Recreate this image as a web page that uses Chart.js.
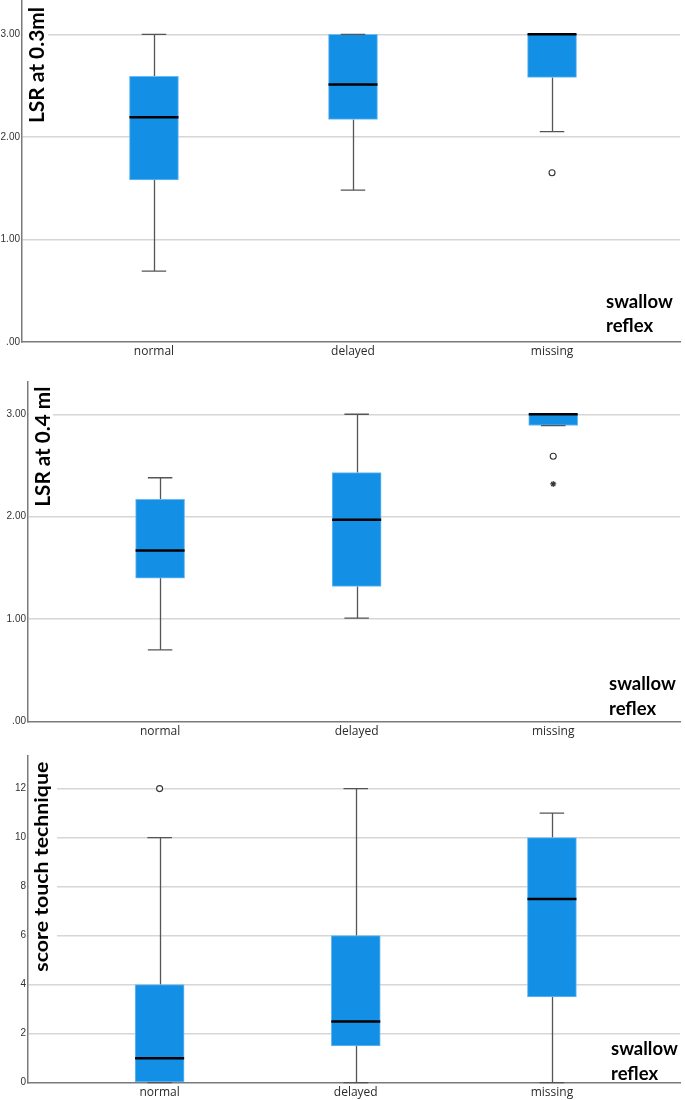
<!DOCTYPE html>
<html>
<head>
<meta charset="utf-8">
<script src="https://cdn.jsdelivr.net/npm/chart.js@4.4.1/dist/chart.umd.min.js"></script>
<style>
  html, body { margin: 0; padding: 0; background: #fff; }
  .panel { position: absolute; left: 0; width: 685px; }
</style>
</head>
<body>
<div class="panel" style="top:0;height:360px"><canvas id="lsr03" width="685" height="360"></canvas></div>
<div class="panel" style="top:360px;height:380px"><canvas id="lsr04" width="685" height="380"></canvas></div>
<div class="panel" style="top:740px;height:360px"><canvas id="touch" width="685" height="360"></canvas></div>
<script>
// Swallow reflex groups
const categories = ['normal', 'delayed', 'missing'];

// LSR at 0.3ml
const lsr03Min = [0.69, 1.48, 2.05];
const lsr03Q1 = [1.58, 2.17, 2.58];
const lsr03Median = [2.19, 2.51, 3.00];
const lsr03Q3 = [2.59, 3.00, 3.00];
const lsr03Max = [3.00, 3.00, 3.00];
const lsr03OutlierCat = ['missing'];
const lsr03OutlierVal = [1.65];

// LSR at 0.4 ml
const lsr04Min = [0.70, 1.01, 2.89];
const lsr04Q1 = [1.40, 1.32, 2.89];
const lsr04Median = [1.67, 1.97, 3.00];
const lsr04Q3 = [2.17, 2.43, 3.00];
const lsr04Max = [2.38, 3.00, 3.00];
const lsr04OutlierCat = ['missing'];
const lsr04OutlierVal = [2.59];
const lsr04ExtremeCat = ['missing'];
const lsr04ExtremeVal = [2.32];

// score touch technique
const touchMin = [0, 0, 0];
const touchQ1 = [0, 1.5, 3.5];
const touchMedian = [1, 2.5, 7.5];
const touchQ3 = [4, 6, 10];
const touchMax = [10, 12, 11];
const touchOutlierCat = ['normal'];
const touchOutlierVal = [12];

// tick values and labels
const lsrTicks = [0, 1, 2, 3];
const lsrTickLabels = ['.00', '1.00', '2.00', '3.00'];
const touchTicks = [0, 2, 4, 6, 8, 10, 12];
const touchTickLabels = ['0', '2', '4', '6', '8', '10', '12'];

const BOX_BLUE = '#1390e6';
const WHISKER = '#555555';

// Whiskers, caps and medians for the box plots
const boxWhiskers = {
  id: 'boxWhiskers',
  beforeDatasetsDraw(chart, args, o) {
    const { ctx, scales: { x, y } } = chart;
    ctx.save();
    ctx.strokeStyle = WHISKER;
    ctx.lineWidth = 1.3;
    o.median.forEach((m, i) => {
      const px = Math.round(x.getPixelForValue(i + 1)) + 0.5;
      ctx.beginPath();
      ctx.moveTo(px, y.getPixelForValue(o.max[i]));
      ctx.lineTo(px, y.getPixelForValue(o.q3[i]));
      ctx.moveTo(px, y.getPixelForValue(o.q1[i]));
      ctx.lineTo(px, y.getPixelForValue(o.min[i]));
      ctx.stroke();
    });
    ctx.restore();
  },
  afterDatasetsDraw(chart, args, o) {
    const { ctx, scales: { x, y } } = chart;
    const bars = chart.getDatasetMeta(0).data;
    ctx.save();
    o.median.forEach((m, i) => {
      const px = x.getPixelForValue(i + 1);
      const w = bars[i].width;
      ctx.strokeStyle = WHISKER;
      ctx.lineWidth = 1.3;
      ctx.beginPath();
      [o.min[i], o.max[i]].forEach(v => {
        const py = y.getPixelForValue(v);
        ctx.moveTo(px - w / 4, py);
        ctx.lineTo(px + w / 4, py);
      });
      ctx.stroke();
      ctx.strokeStyle = '#000';
      ctx.lineWidth = 2.5;
      ctx.beginPath();
      const my = y.getPixelForValue(m);
      ctx.moveTo(px - w / 2, my);
      ctx.lineTo(px + w / 2, my);
      ctx.stroke();
    });
    ctx.restore();
  }
};

// Rotated bold axis title and the "swallow reflex" caption
const panelText = {
  id: 'panelText',
  afterDraw(chart, args, o) {
    const { ctx, chartArea } = chart;
    ctx.save();
    ctx.fillStyle = '#fff';
    ctx.fillRect(chartArea.left + 1, o.cy - o.length / 2 - 3, o.bgRight - chartArea.left - 1, o.length + 6);
    ctx.fillStyle = '#000';
    ctx.translate(o.baseX, o.cy);
    ctx.rotate(-Math.PI / 2);
    ctx.font = 'bold ' + o.size + 'px Lato, "Open Sans", sans-serif';
    const tw = ctx.measureText(o.title).width;
    ctx.scale(o.length / tw, 1);
    ctx.textAlign = 'center';
    ctx.textBaseline = 'alphabetic';
    ctx.fillText(o.title, 0, 0);
    ctx.restore();

    ctx.save();
    ctx.fillStyle = '#000';
    ctx.font = 'bold 18.5px Lato, "Open Sans", sans-serif';
    ctx.textAlign = 'left';
    ctx.textBaseline = 'alphabetic';
    ctx.fillText('swallow', o.capX, o.capY);
    ctx.fillText('reflex', o.capX, o.capY + 24.5);
    ctx.restore();
  }
};

function toPoints(cats, vals) {
  return vals.map((v, i) => ({ x: categories.indexOf(cats[i]) + 1, y: v }));
}

function boxChart(id, p) {
  const H = document.getElementById(id).height;
  const datasets = [{
    type: 'bar',
    data: categories.map((c, i) => ({ x: i + 1, y: [p.q1[i], p.q3[i]] })),
    backgroundColor: BOX_BLUE,
    borderColor: '#6dbaf2',
    borderWidth: 1,
    borderSkipped: false,
    barThickness: 49
  }, {
    type: 'scatter',
    data: toPoints(p.outCat, p.outVal),
    pointStyle: 'circle',
    pointRadius: 3,
    pointBackgroundColor: '#fff',
    pointBorderColor: '#333',
    pointBorderWidth: 1.1
  }];
  if (p.extCat) {
    datasets.push({
      type: 'scatter',
      data: toPoints(p.extCat, p.extVal),
      pointStyle: 'star',
      pointRadius: 3,
      pointBorderColor: '#333',
      pointBorderWidth: 1.1
    });
  }
  return new Chart(document.getElementById(id), {
    type: 'bar',
    data: { datasets },
    options: {
      responsive: false,
      animation: false,
      events: [],
      layout: { autoPadding: false, padding: { top: p.top, right: 5, left: 0, bottom: 0 } },
      plugins: {
        legend: { display: false },
        tooltip: { enabled: false },
        boxWhiskers: { min: p.min, q1: p.q1, median: p.median, q3: p.q3, max: p.max },
        panelText: p.text
      },
      scales: {
        x: {
          type: 'linear',
          offset: false,
          min: p.xMin,
          max: p.xMax,
          afterBuildTicks: s => { s.ticks = categories.map((c, i) => ({ value: i + 1 })); },
          afterFit: s => { s.height = H - p.bottom; s.paddingLeft = 0; s.paddingRight = 0; },
          ticks: {
            callback: v => categories[v - 1],
            font: { family: '"Open Sans", sans-serif', size: 12 },
            color: '#2b2b2b',
            padding: 3,
            maxRotation: 0,
            autoSkip: false
          },
          grid: { display: false, drawTicks: false },
          border: { color: '#7a7a7a', width: 1.5 }
        },
        y: {
          min: 0,
          max: p.yMax,
          afterBuildTicks: s => { s.ticks = p.ticks.map(v => ({ value: v })); },
          afterFit: s => { s.width = p.left; s.paddingTop = 0; s.paddingBottom = 0; },
          ticks: {
            callback: v => p.tickLabels[p.ticks.indexOf(v)],
            font: { family: '"Liberation Sans Narrow", "Liberation Sans", sans-serif', size: 10 },
            color: '#333',
            padding: 2
          },
          grid: {
            drawTicks: false,
            lineWidth: 1.5,
            color: c => (c.tick && c.tick.value === 0) ? 'rgba(0,0,0,0)' : '#d6d6d6'
          },
          border: { color: '#7a7a7a', width: 1.5 }
        }
      }
    },
    plugins: [boxWhiskers, panelText]
  });
}

Chart.defaults.font.family = '"Open Sans", sans-serif';

boxChart('lsr03', {
  min: lsr03Min, q1: lsr03Q1, median: lsr03Median, q3: lsr03Q3, max: lsr03Max,
  outCat: lsr03OutlierCat, outVal: lsr03OutlierVal,
  ticks: lsrTicks, tickLabels: lsrTickLabels,
  yMax: 3.335, xMin: 0.337, xMax: 3.643,
  left: 22, top: 0, bottom: 341.8,
  text: { title: 'LSR at 0.3ml', size: 21, length: 116, cy: 65, baseX: 44, bgRight: 48, capX: 606, capY: 307.7 }
});

boxChart('lsr04', {
  min: lsr04Min, q1: lsr04Q1, median: lsr04Median, q3: lsr04Q3, max: lsr04Max,
  outCat: lsr04OutlierCat, outVal: lsr04OutlierVal,
  extCat: lsr04ExtremeCat, extVal: lsr04ExtremeVal,
  ticks: lsrTicks, tickLabels: lsrTickLabels,
  yMax: 3.318, xMin: 0.328, xMax: 3.645,
  left: 28, top: 21.7, bottom: 361.5,
  text: { title: 'LSR at 0.4 ml', size: 20, length: 120, cy: 86.7, baseX: 50, bgRight: 53, capX: 609, capY: 330 }
});

boxChart('touch', {
  min: touchMin, q1: touchQ1, median: touchMedian, q3: touchQ3, max: touchMax,
  outCat: touchOutlierCat, outVal: touchOutlierVal,
  ticks: touchTicks, tickLabels: touchTickLabels,
  yMax: 13.33, xMin: 0.329, xMax: 3.653,
  left: 28, top: 16, bottom: 342.7,
  text: { title: 'score touch technique', size: 18, length: 210, cy: 126.7, baseX: 48, bgRight: 57, capX: 611, capY: 315 }
});
</script>
</body>
</html>
